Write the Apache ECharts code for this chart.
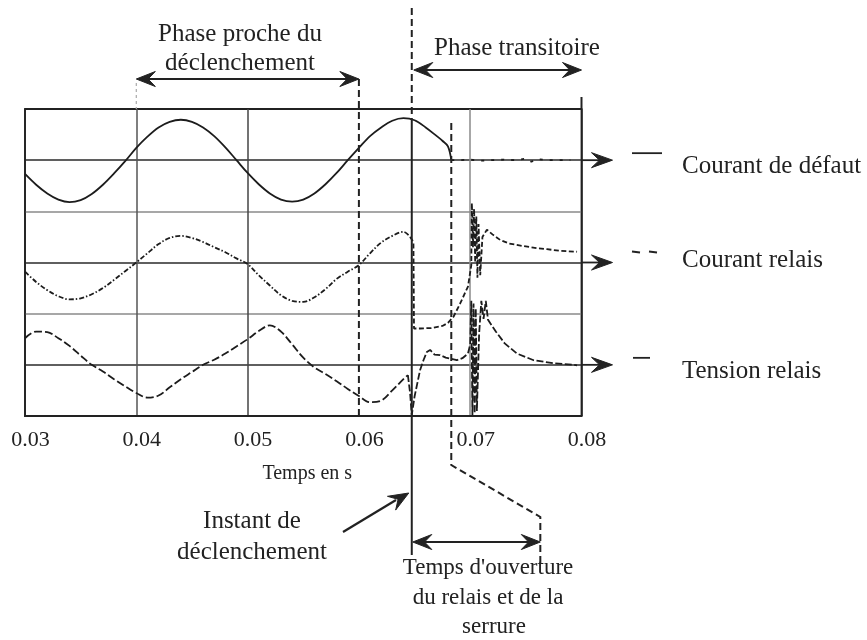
<!DOCTYPE html>
<html><head><meta charset="utf-8">
<script src="https://cdn.jsdelivr.net/npm/echarts@6/dist/echarts.min.js"></script>
<style>html,body{margin:0;padding:0;background:#fff}#c{width:867px;height:640px}</style>
</head><body><div id="c"></div>
<script>
// ---- data (time in ms) ----
const xTickLabels = ['0.03','0.04','0.05','0.06','0.07','0.08'];
const legendNames = ['Courant de défaut','Courant relais','Tension relais'];

const defautT1 = [30,31,32,33,34,35,36,37,38,39,40,41,42,43,44,45,46,47,48,49,50,51,52,53,54,55,56,57,58,59,60,61,62,63,64,65,66,67,67.5,68,68.3];
const defautV1 = [4.73,4.52,4.35,4.23,4.18,4.22,4.34,4.52,4.74,4.98,5.24,5.46,5.64,5.75,5.79,5.75,5.64,5.47,5.25,5.00,4.75,4.53,4.35,4.23,4.19,4.23,4.35,4.53,4.75,5.00,5.24,5.47,5.64,5.77,5.82,5.78,5.64,5.47,5.38,5.27,5.00];
const defautT2 = [68.3,69,70,71,72,73,74,75,75.5,76,77,78,79];
const defautV2 = [5.00,5.00,5.01,4.99,5.00,5.01,5.00,5.03,4.97,5.02,5.00,5.00,5.00];

const relaisT1 = [30,31,32,33,34,35,36,37,38,39,40,41,42,43,44,45,46,47,48,49,50,51,52,53,54,55,56,57,58,59,60,61,62,63,64,64.6];
const relaisV1 = [2.82,2.62,2.46,2.34,2.28,2.30,2.38,2.50,2.66,2.83,3.00,3.18,3.36,3.48,3.52,3.48,3.40,3.30,3.20,3.08,2.97,2.75,2.55,2.36,2.25,2.23,2.32,2.48,2.68,2.82,2.95,3.18,3.39,3.52,3.60,3.50];
const relaisT2 = [64.6,64.9,64.95,65.5,66.5,67.5,68.0,68.5,69.1,69.8,70.1,70.15,70.25,70.35,70.45,70.55,70.65,70.75,70.9,71.1,71.5,72.0,72.7,73.5,74.8,76.0,76.9,78.0,79.6];
const relaisV2 = [3.50,3.40,1.71,1.71,1.72,1.76,1.82,1.94,2.20,2.53,2.95,4.16,3.30,4.05,3.00,3.90,2.70,3.75,2.75,3.50,3.64,3.55,3.44,3.37,3.32,3.28,3.26,3.23,3.21];

const tensionT1 = [30,31,32,33,34,35,36,37,38,39,40,41,42,43,44,45,46,47,48,49,50,51,52,53,54,55,56,57,58,59,60,61,62,63,64,64.4];
const tensionV1 = [1.52,1.65,1.64,1.52,1.37,1.18,1.00,0.87,0.72,0.58,0.45,0.36,0.40,0.56,0.72,0.86,1.00,1.10,1.22,1.36,1.50,1.66,1.77,1.65,1.40,1.14,0.95,0.82,0.68,0.53,0.39,0.27,0.30,0.50,0.72,0.80];
const tensionT2 = [64.4,64.6,64.75,65.0,65.5,65.8,66.1,66.4,66.8,67.3,67.8,68.3,68.8,69.3,69.8,70.0,70.1,70.2,70.3,70.4,70.5,70.6,70.8,71.0,71.2,71.4,71.6,72.3,73.1,74.2,75.7,77.5,79.3,79.6];
const tensionV2 = [0.80,0.45,0.02,0.38,0.90,1.09,1.25,1.29,1.20,1.19,1.14,1.12,1.09,1.13,1.22,1.40,2.25,0.02,2.20,0.05,2.10,0.10,1.60,2.25,1.90,2.25,1.88,1.65,1.42,1.22,1.09,1.03,1.00,0.99];

// annotation anchors (data space)
const phaseStart = 40, phaseEnd = 60, tripT = 64.75, openT = 68.3, lockT = 76.3, transEnd = 80;
const axisLevels = [5, 3, 1];

// ---- chart ----
const FONT = '"Liberation Serif","Times New Roman",serif';
const INK = '#222';
const zip = (t, v) => t.map((x, i) => [x, v[i]]);
const chart = echarts.init(document.getElementById('c'), null, {renderer: 'canvas'});

function lineSeries(name, t, v, type, smooth) {
  return {
    name, type: 'line', data: zip(t, v), showSymbol: false, symbol: 'none',
    smooth: smooth ? 0.35 : false, clip: false, animation: false, z: 5,
    lineStyle: {color: '#1c1c1c', width: 1.8, type}
  };
}

chart.setOption({
  animation: false,
  backgroundColor: '#fff',
  grid: {left: 25, top: 109, width: 556.5, height: 307, show: true, borderColor: INK, borderWidth: 1.8, backgroundColor: 'transparent'},
  xAxis: {
    type: 'value', min: 30, max: 80, interval: 10,
    name: 'Temps en s', nameLocation: 'middle', nameGap: 48,
    nameTextStyle: {fontFamily: FONT, fontSize: 20, color: INK, padding: [0, 0, 0, 8]},
    axisLine: {show: true, lineStyle: {color: INK, width: 1.8}},
    axisTick: {show: false},
    axisLabel: {fontFamily: FONT, fontSize: 22, color: INK, margin: 13, padding: [0, 0, 0, 11],
      formatter: v => xTickLabels[Math.round((v - 30) / 10)]},
    splitLine: {show: true, lineStyle: {width: 1.5, color: [INK, '#555', '#444', 'rgba(0,0,0,0)', '#8a8a8a', INK]}}
  },
  yAxis: {
    type: 'value', min: 0, max: 6, interval: 1,
    axisLine: {show: false}, axisTick: {show: false}, axisLabel: {show: false},
    splitLine: {show: true, lineStyle: {width: 1.6, color: [INK, '#2a2a2a', '#8a8a8a', '#2a2a2a', '#8a8a8a', '#2a2a2a', INK]}}
  },
  series: [
    lineSeries(legendNames[0], defautT1, defautV1, 'solid', true),
    lineSeries(legendNames[0], defautT2, defautV2, [3, 7], false),
    lineSeries(legendNames[1], relaisT1, relaisV1, [5, 2, 1.5, 2], true),
    lineSeries(legendNames[1], relaisT2, relaisV2, [5, 2.5], false),
    lineSeries(legendNames[2], tensionT1, tensionV1, [8, 3], true),
    lineSeries(legendNames[2], tensionT2, tensionV2, [7, 2.5], false)
  ]
});

// ---- annotations ----
const P = (t, v) => chart.convertToPixel({gridIndex: 0}, [t, v]);
const g = [];
function seg(x1, y1, x2, y2, dash, w, color) {
  g.push({type: 'line', silent: true, z: 10, shape: {x1, y1, x2, y2},
    style: {stroke: color || INK, lineWidth: w || 2, lineDash: dash || null}});
}
function head(tx, ty, fx, fy, len, half) {
  len = len || 19; half = half || 7.5;
  const L = Math.hypot(tx - fx, ty - fy), dx = (tx - fx) / L, dy = (ty - fy) / L;
  const px = -dy, py = dx;
  const bx = tx - len * dx, by = ty - len * dy;
  const nx = tx - 0.62 * len * dx, ny = ty - 0.62 * len * dy;
  g.push({type: 'polygon', silent: true, z: 11,
    shape: {points: [[tx, ty], [bx + half * px, by + half * py], [nx, ny], [bx - half * px, by - half * py]]},
    style: {fill: INK, stroke: INK, lineWidth: 1}});
}
function dblArrow(x1, x2, y) {
  seg(x1 + 6, y, x2 - 6, y, null, 2.2);
  head(x1, y, x2, y); head(x2, y, x1, y);
}
function txt(text, x, y, size, align) {
  g.push({type: 'text', silent: true, z: 12, x, y,
    style: {text, font: size + 'px ' + FONT, fontFamily: FONT, fontSize: size, fill: INK,
      textAlign: align || 'center', align: align || 'center', textVerticalAlign: 'middle', verticalAlign: 'middle'}});
}

const yTop = P(30, 6)[1], yBot = P(30, 0)[1];
const xRight = P(transEnd, 0)[0];
const xP0 = P(phaseStart, 0)[0], xP1 = P(phaseEnd, 0)[0];
const xTrip = P(tripT, 0)[0], xOpen = P(openT, 0)[0], xLock = P(lockT, 0)[0];

// Phase proche du déclenchement
seg(xP0, 83, xP0, yTop, [3, 3], 1.2, '#aaa');
seg(xP1, 79, xP1, yBot, [7, 4], 2);
dblArrow(xP0, xP1, 79);
txt('Phase proche du', 240, 34, 25);
txt('déclenchement', 240, 63, 25);

// Phase transitoire
seg(xTrip, 8, xTrip, 118, [7, 4], 2);
seg(xTrip, 118, xTrip, 555, null, 2);
dblArrow(xTrip + 2, xRight, 70);
txt('Phase transitoire', 517, 48, 25);
seg(xRight, 97, xRight, yTop, null, 2);

// right-hand axis arrows and legend
axisLevels.forEach(lv => {
  const y = P(80, lv)[1];
  seg(xRight, y, xRight + 22, y, null, 1.8);
  head(xRight + 31, y, xRight, y, 21, 7.5);
});
const yL0 = P(80, axisLevels[0])[1], yL1 = P(80, axisLevels[1])[1], yL2 = P(80, axisLevels[2])[1];
seg(632, yL0 - 7, 662, yL0 - 7, null, 1.8);
seg(632, yL1 - 11, 640, yL1 - 10, null, 1.8);
seg(649, yL1 - 11, 657, yL1 - 10, null, 1.8);
seg(633, yL2 - 7, 650, yL2 - 7, null, 1.8);
txt(legendNames[0], 682, 166, 25, 'left');
txt(legendNames[1], 682, 260, 25, 'left');
txt(legendNames[2], 682, 371, 25, 'left');

// relay / lock opening
g.push({type: 'polyline', silent: true, z: 10,
  shape: {points: [[xOpen, 123], [xOpen, 465], [xLock, 517], [xLock, 563]]},
  style: {stroke: INK, lineWidth: 2, fill: null, lineDash: [7, 4]}});
dblArrow(xTrip + 1, xLock, 542);
txt("Temps d'ouverture", 488, 568, 23);
txt('du relais et de la', 488, 598, 23);
txt('serrure', 494, 627, 23);

// Instant de déclenchement
seg(343, 532, 396, 500, null, 2.2);
head(xTrip - 3, 493, 343, 532, 20, 8);
txt('Instant de', 252, 521, 25);
txt('déclenchement', 252, 552, 25);

chart.setOption({graphic: {elements: g}});
</script>
</body></html>
